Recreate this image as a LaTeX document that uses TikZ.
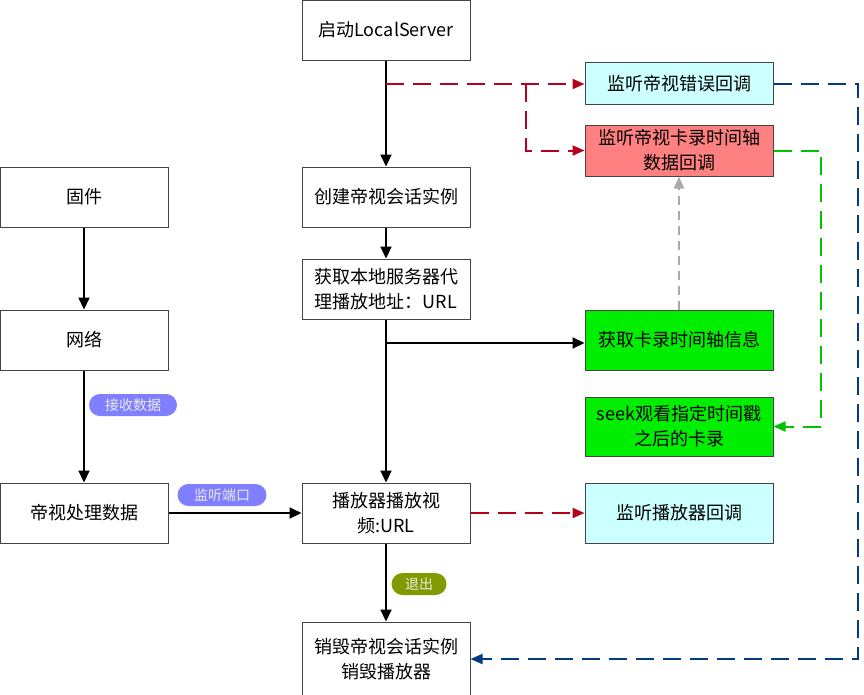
\documentclass[tikz,border=0pt]{standalone}
\usepackage{fontspec}
\setmainfont{Noto Sans CJK SC}
\usetikzlibrary{arrows.meta}
\definecolor{boxline}{HTML}{444444}
\definecolor{cyanfill}{HTML}{CCFFFF}
\definecolor{redfill}{HTML}{FF8080}
\definecolor{greenfill}{HTML}{00EE00}
\definecolor{reddash}{HTML}{B5001E}
\definecolor{bluedash}{HTML}{003C7E}
\definecolor{greendash}{HTML}{00C400}
\definecolor{graydash}{HTML}{AAAAAA}
\definecolor{pillpurple}{HTML}{7F7FFF}
\definecolor{pillolive}{HTML}{809A00}
\tikzset{
  box/.style={draw=boxline, line width=1pt, fill=white, minimum width=168pt, minimum height=60pt,
    inner sep=0pt, align=center, font=\fontsize{18}{25}\selectfont, text width=164pt},
  rbox/.style={box, minimum width=188pt, text width=184pt},
  pill/.style={rounded corners=11pt, minimum height=22pt, inner sep=0pt, text=white!92!black,
    font=\fontsize{14}{15}\selectfont},
  solidarrow/.style={line width=2pt, -{Triangle[length=12pt,width=11pt]}},
  dasharrow/.style={line width=2pt, dash pattern=on 18pt off 9pt, -{Triangle[length=12pt,width=10pt]}},
}
\begin{document}
\begin{tikzpicture}[x=1pt,y=-1pt]
\useasboundingbox (0,0) rectangle (864,694);
% center column
\node[box] (start) at (386,30) {启动LocalServer};
\node[box] (create) at (386,197) {创建帝视会话实例};
\node[box] (geturl) at (386,289) {获取本地服务器代\\理播放地址：URL};
\node[box] (play) at (386,513) {播放器播放视\\频:URL};
\node[box, minimum height=74pt] (destroy) at (386,659) {销毁帝视会话实例\\销毁播放器};
% left column
\node[box] (fw) at (84,197) {固件};
\node[box] (net) at (84,340) {网络};
\node[box] (proc) at (84,513) {帝视处理数据};
% right column
\node[rbox, fill=cyanfill, minimum height=42pt] (err) at (679,83.5) {监听帝视错误回调};
\node[rbox, fill=redfill, minimum height=51pt] (tl) at (679,150.5) {监听帝视卡录时间轴\\数据回调};
\node[rbox, fill=greenfill] (gettl) at (679,340) {获取卡录时间轴信息};
\node[rbox, fill=greenfill, minimum height=59pt] (seek) at (679,426.5) {seek观看指定时间戳\\之后的卡录};
\node[rbox, fill=cyanfill] (pcb) at (679,513) {监听播放器回调};
% coordinates
\coordinate (j1) at (386,84);
\coordinate (j2) at (526,84);
\coordinate (j3) at (386,343);
% solid arrows
\draw[solidarrow] (start) -- (create);
\draw[solidarrow] (create) -- (geturl);
\draw[solidarrow] (geturl) -- (play);
\draw[solidarrow] (j3) -- (gettl.west |- j3);
\draw[solidarrow] (play) -- (destroy);
\draw[solidarrow] (fw) -- (net);
\draw[solidarrow] (net) -- (proc);
\draw[solidarrow] (proc) -- (play);
% dashed arrows
\draw[dasharrow, reddash] (j1) -- (err.west |- j1);
\draw[dasharrow, reddash] (j2) |- (tl.west);
\draw[dasharrow, reddash] (play) -- (pcb);
\draw[dasharrow, graydash, dash pattern=on 9pt off 6pt] (gettl) -- (tl);
\draw[dasharrow, greendash] (tl.east) -- (821,150.5) |- (seek.east);
\draw[dasharrow, bluedash] (err.east) -- (858,83.5) |- (destroy.east);
% labels
\node[pill, fill=pillpurple, minimum width=88pt] (lb1) at (133,405) {接收数据};
\node[pill, fill=pillpurple, minimum width=89pt] (lb2) at (222,495) {监听端口};
\node[pill, fill=pillolive, minimum width=55pt] (lb3) at (419,584) {退出};
\end{tikzpicture}
\end{document}
